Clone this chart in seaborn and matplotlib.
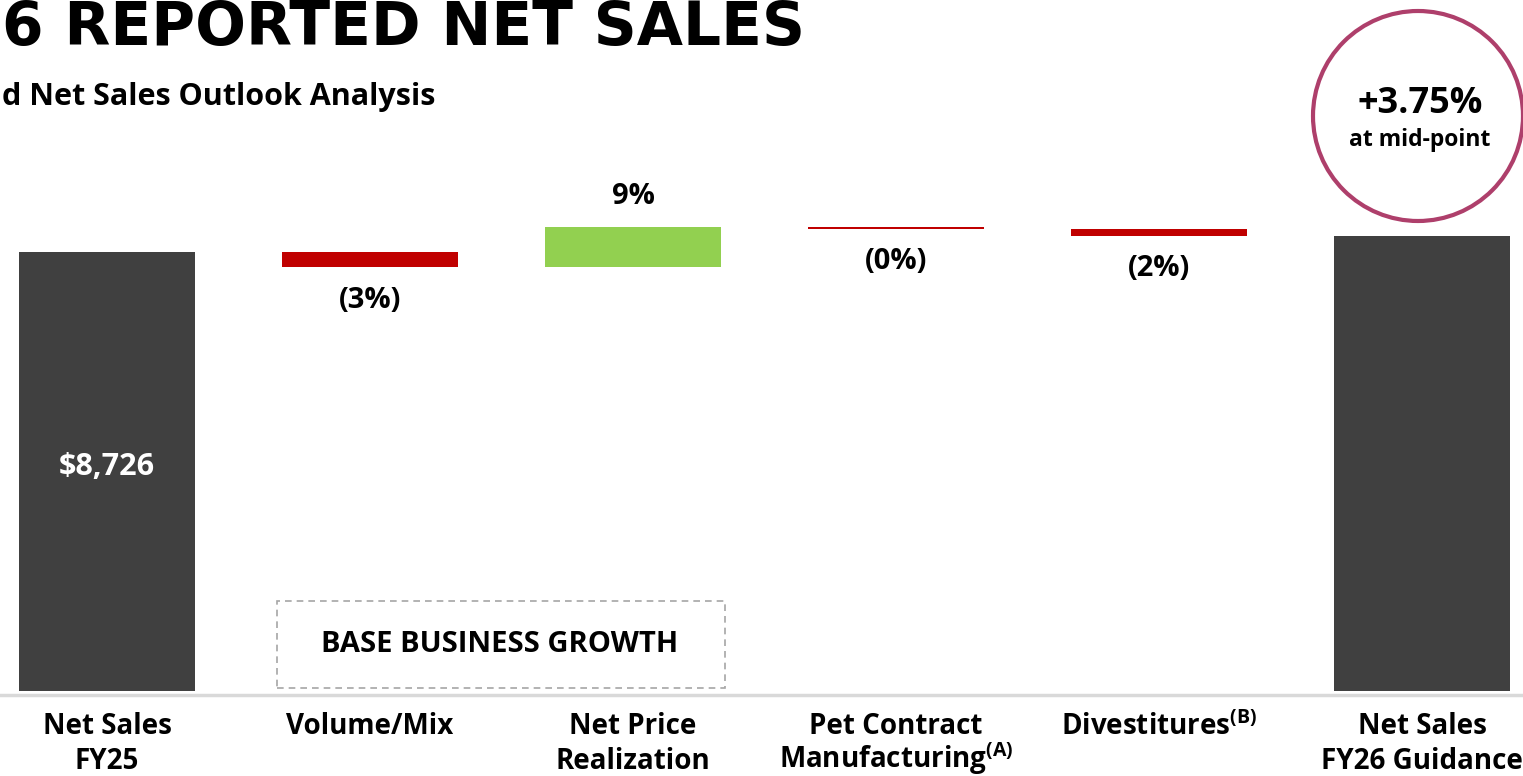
import numpy as np
import pandas as pd
import matplotlib
matplotlib.use("Agg")
import matplotlib.pyplot as plt
from matplotlib.patches import Rectangle, Ellipse
import seaborn as sns

# Data (US$ millions)
categories = ["Net Sales\nFY25", "Volume/Mix", "Net Price\nRealization",
              "Pet Contract\nManufacturing$^{\\bf (A)}$", "Divestitures$^{\\bf (B)}$",
              "Net Sales\nFY26 Guidance"]
start_value = 8726
deltas = [-300, 795, -30, -138]
growth_midpoint = "+3.75%"

sns.set_theme(style="white")
plt.rcParams["font.family"] = ["Open Sans", "DejaVu Sans"]
plt.rcParams["text.color"] = "black"
plt.rcParams["mathtext.fontset"] = "custom"
plt.rcParams["mathtext.rm"] = "Open Sans"
plt.rcParams["mathtext.bf"] = "Open Sans:bold"

DARK = "#404040"
RED = "#C00000"
GREEN = "#92D050"

# waterfall geometry
end_value = start_value + sum(deltas)
levels = np.cumsum([start_value] + deltas)
bottoms, heights, colors = [0], [start_value], [DARK]
for prev, d in zip(levels[:-1], deltas):
    bottoms.append(prev + min(d, 0))
    heights.append(abs(d))
    colors.append(GREEN if d > 0 else RED)
bottoms.append(0)
heights.append(end_value)
colors.append(DARK)

df = pd.DataFrame({"cat": categories, "height": heights})

W, H = 1523, 776
fig = plt.figure(figsize=(W / 100, H / 100), dpi=100)
ax = fig.add_axes([0, 85 / H, 1, 691 / H])

sns.barplot(data=df, x="cat", y="height", bottom=np.array(bottoms, dtype=float),
            color=DARK, width=0.67, saturation=1, ax=ax, order=categories)
for patch, c in zip(ax.patches, colors):
    patch.set_facecolor(c)
    patch.set_edgecolor("none")

ax.set_xlim(-0.407, 5.384)
ax.set_ylim(0, 13735)
ax.set_xlabel("")
ax.set_ylabel("")
ax.set_yticks([])
for s in ["top", "left", "right"]:
    ax.spines[s].set_visible(False)
ax.spines["bottom"].set_color("#D9D9D9")
ax.spines["bottom"].set_linewidth(2.5)
ax.spines["bottom"].set_position(("outward", 3))
ax.tick_params(axis="x", length=0, pad=12)
ax.set_xticks(range(len(categories)))
ax.set_xticklabels(categories, fontsize=20, fontweight="bold", color="black",
                   linespacing=1.26, va="top")
ax.get_xticklabels()[3].set_linespacing(0.98)

# value labels
ax.text(0, start_value * 0.51, f"${start_value:,}", ha="center", va="center",
        color="white", fontsize=22, fontweight="bold")
for i, d in enumerate(deltas, start=1):
    pct = round(abs(d) / start_value * 100)
    if d > 0:
        ax.annotate(f"{pct}%", (i, bottoms[i] + heights[i]), xytext=(0, 31),
                    textcoords="offset pixels", ha="center", va="center",
                    fontsize=21, fontweight="bold")
    else:
        ax.annotate(f"({pct}%)", (i, bottoms[i]), xytext=(0, -33),
                    textcoords="offset pixels", ha="center", va="center",
                    fontsize=21, fontweight="bold")

# dashed "base business growth" box
box = Rectangle((277 / W, 1 - 688 / H), 448 / W, 87 / H, transform=fig.transFigure,
                fill=False, edgecolor="#A6A6A6", linestyle=(0, (4, 3)), linewidth=1.2)
fig.add_artist(box)
fig.text(500 / W, 1 - 644 / H, "BASE BUSINESS GROWTH", ha="center", va="center",
         fontsize=21, fontweight="bold")

# growth circle
circ = Ellipse((1418 / W, 1 - 116 / H), 210 / W, 210 / H, transform=fig.transFigure,
               fill=False, edgecolor="#AE3F6B", linewidth=3)
fig.add_artist(circ)
fig.text(1420 / W, 1 - 104 / H, growth_midpoint, ha="center", va="center",
         fontsize=26, fontweight="bold")
fig.text(1420 / W, 1 - 140 / H, "at mid-point", ha="center", va="center",
         fontsize=16.5, fontweight="bold")

# title + subtitle (the slide shows them cut at the left edge)
fig.text(2 / W, 1 - 45 / H, "6 REPORTED NET SALES", ha="left", va="baseline",
         fontsize=43, fontweight="bold", family=["DejaVu Sans"])
fig.text(2 / W, 1 - 105 / H, "d Net Sales Outlook Analysis", ha="left",
         va="baseline", fontsize=22, fontweight="bold")

fig.savefig("out.png", dpi=100)
